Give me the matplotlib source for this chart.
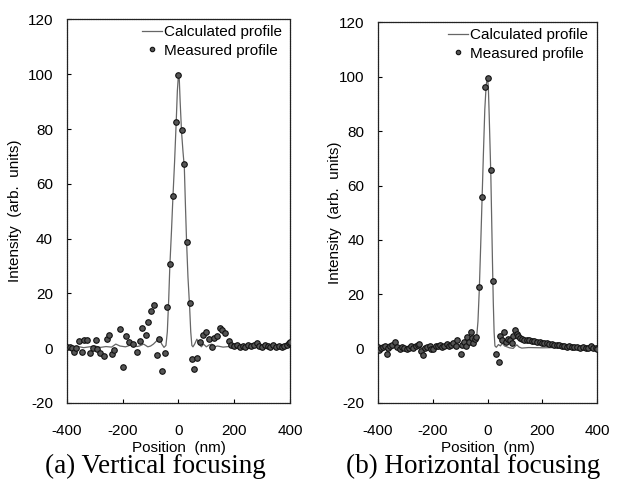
import numpy as np
import matplotlib
matplotlib.use('Agg')
import matplotlib.pyplot as plt

plt.rcParams['font.family'] = ['Liberation Sans', 'DejaVu Sans']
plt.rcParams['axes.unicode_minus'] = False

# ---- (a) vertical focusing ----
vert_meas_x = [-400, -390, -382, -376, -366, -358, -346, -338, -328, -318, -308, -297, -294, -282,
               -268, -256, -250, -238, -230, -211, -199, -190, -178, -162, -148, -139, -130, -118,
               -110, -98, -89, -77, -71, -59, -47, -41, -31, -20, -8, 0, 11, 21, 29, 40, 49, 57,
               67, 79, 89, 99, 109, 121, 127, 139, 148, 157, 166, 181, 190, 200, 210, 220, 230,
               240, 250, 260, 270, 282, 290, 300, 310, 320, 330, 340, 350, 360, 370, 380, 390,
               396, 400]
vert_meas_y = [0.3, 0.5, 0, -1.3, 0.2, 2.7, -1.3, 3.1, 3, -1.8, 0.2, 2.9, -0.4, -1.6,
               -2.8, 3.3, 4.8, -2.2, -0.6, 6.9, -7, 4.5, 2.1, 1.5, -1.3, 2.5, 7.5, 4.7,
               9.6, 13.6, 15.6, -2.4, 3.3, -8.2, -1.8, 15.2, 30.8, 55.4, 82.7, 99.6, 79.6, 67.3, 38.7, 16.4, -4, -7.6,
               -3.4, 2.1, 4.7, 5.9, 3.3, 0.6, 3.9, 4.5, 7.2, 6.5, 5.5, 2.7, 1.2, 0.8, 1, 0.5, 0.9,
               0.6, 1, 0.7, 1.2, 2, 0.8, 0.5, 1.1, 0.7, 0.6, 1, 0.4, 0.9, 0.5, 0.8, 1.3,
               2, 2.2]

vert_calc_x = [-400, -380, -360, -340, -320, -300, -280, -260, -240, -225, -210, -190, -170, -160,
               -150, -140, -125, -110, -100, -90, -80, -70, -60, -52, -45, -40, -35, -31, -25,
               -20, -14, -8, -4, 0, 3, 6, 11, 16, 21, 25, 29, 34, 40, 44, 48, 52, 58, 66, 74,
               82, 90, 100, 110, 120, 130, 140, 160, 180, 200, 230, 260, 290, 320, 350, 380, 400]
vert_calc_y = [0.5, 0.3, 0.6, 0.2, 0.5, 0.8, 0.3, 0.6, 0.4, 1.5, 0.8, 0.5, 1.2, 2.0,
               0.6, 0.8, 1.5, 0.5, 0.8, 1.5, 2.5, 3.8, 1.5, 0.3, 1, 6, 18, 30, 43,
               55, 68, 83, 94, 100, 98, 90, 79, 72, 66, 52, 39, 26, 15, 6, 1, 0.5, 1.5, 3.3, 1.5,
               0.5, 1.5, 0.5, 1.2, 1.5, 0.5, 0.8, 0.4, 0.6, 0.3, 0.5, 0.4, 0.6, 0.3, 0.5, 0.4, 0.5]

# ---- (b) horizontal focusing ----
hor_meas_x = [-400, -395, -388, -381, -374, -368, -362, -356, -348, -338, -330, -320, -312, -304,
              -295, -288, -280, -271, -262, -255, -249, -243, -237, -230, -220, -212, -205, -198,
              -190, -182, -174, -166, -158, -149, -141, -133, -125, -117, -110, -98, -92, -86,
              -80, -76, -69, -61, -56, -52, -46, -42, -33, -21, -8, 0, 12, 19, 31, 41, 46, 54,
              61, 68, 76, 82, 88, 94, 100, 107, 113, 120, 127, 135, 143, 152, 161, 170, 180,
              190, 198, 207, 216, 225, 234, 243, 253, 262, 271, 280, 289, 298, 307, 316, 326,
              338, 348, 358, 368, 378, 387, 395, 400]
hor_meas_y = [0.5, -0.5, 0.3, 0.7, 1.0, -2, 0.2, 0.9, 1.5, 2.5, 0.6, 0, 0.5, 0.2,
              -0.3, 0.4, 0.8, 0.4, 0.9, 1.2, 1.6, -0.8, -2.4, 0.2, 0.7, 1.0, -0.3, 0,
              0.8, 1.1, 1.3, 0.5, 1.0, 1.6, 0.8, 1.2, 1.9, 0.9, 3.1, -2, 1.5, 2.5,
              1.0, 4.1, 2.5, 6.2, 4.0, 2.1, 3.5, 4.3, 22.5, 55.8, 96.3, 99.7, 65.9, 24.9, -2, -4.8, 4.6, 3.0,
              6.2, 2.5, 3.7, 3.0, 2.1, 4.5, 6.8, 5.5, 4.6, 3.8, 3.5, 3.3, 3.1, 3.0, 2.9, 2.7, 2.5,
              2.3, 2.2, 2.0, 1.9, 1.8, 1.7, 1.4, 1.3, 1.2, 1.0, 0.8, 0.7, 0.9, 0.6, 0.5, 0.6,
              0.4, 0.5, 0.2, 0.3, 0.8, 0.1, 0.2, 0]

hor_calc_x = [-400, -360, -320, -280, -240, -200, -160, -120, -90, -70, -55, -45, -40, -35, -30,
              -25, -20, -15, -10, -5, 0, 3, 6, 9, 12, 15, 18, 21, 24, 27, 32, 40, 47, 54, 62,
              70, 80, 94, 100, 107, 115, 125, 150, 200, 250, 300, 350, 400]
hor_calc_y = [0.3, 0.5, 0.2, 0.4, 0.3, 0.5, 0.4, 0.6, 0.8, 1.0, 1.8, 2.2, 4, 10, 22,
              38, 55, 72, 88, 97, 100, 96, 86, 75, 64, 48, 32, 17, 6, 1, 0.5, 1.5, 1.0, 2.0, 1.0,
              0.7, 0.3, 0.1, 0.8, 1.4, 0.6, 0.2, 0.4, 0.3, 0.4, 0.2, 0.3, 0.2]

x_ticks = [-400, -200, 0, 200, 400]
y_ticks = [-20, 0, 20, 40, 60, 80, 100, 120]
captions = ['(a) Vertical focusing', '(b) Horizontal focusing']

f = plt.figure(figsize=(6.18, 4.87), dpi=100)
ax1 = f.add_axes([0.1084, 0.1725, 0.3608, 0.7875])
ax2 = f.add_axes([0.6117, 0.1725, 0.3544, 0.7813])

panels = [
    (ax1, vert_calc_x, vert_calc_y, vert_meas_x, vert_meas_y, -0.202, (0.965, 0.985)),
    (ax2, hor_calc_x, hor_calc_y, hor_meas_x, hor_meas_y, -0.164, (0.96, 0.985)),
]

for ax, cx, cy, mx, my, ylab_x, leg_anchor in panels:
    ax.plot(cx, cy, color='#666666', lw=0.9, label='Calculated profile', zorder=2)
    ax.plot(mx, my, ls='none', marker='o', ms=4, mfc='#555555', mec='#111111',
            mew=0.8, label='Measured profile', zorder=3)
    ax.set_xlim(-400, 400)
    ax.set_ylim(-20, 120)
    ax.set_xticks(x_ticks)
    ax.set_yticks(y_ticks)
    ax.tick_params(axis='x', direction='in', length=3, width=0.8, pad=15, labelsize=11)
    ax.tick_params(axis='y', direction='in', length=3, width=0.8, pad=10, labelsize=11)
    for sp in ax.spines.values():
        sp.set_linestyle((0, (1, 0.8)))
        sp.set_linewidth(0.9)
        sp.set_color('#222222')
    ax.set_xlabel('Position  (nm)', fontsize=11, labelpad=2)
    ax.set_ylabel('Intensity  (arb.  units)', fontsize=11)
    ax.yaxis.set_label_coords(ylab_x, 0.5)
    ax.legend(loc='upper right', bbox_to_anchor=leg_anchor, frameon=False, fontsize=11,
              handlelength=1.3, handletextpad=0.15, labelspacing=0.3, borderaxespad=0,
              borderpad=0, numpoints=1, markerscale=0.8)

f.text(0.2516, 0.042, captions[0], family='Liberation Serif', fontsize=19.5,
       ha='center', va='center')
f.text(0.765, 0.042, captions[1], family='Liberation Serif', fontsize=19.5,
       ha='center', va='center')

f.savefig('out.png', dpi=100)
